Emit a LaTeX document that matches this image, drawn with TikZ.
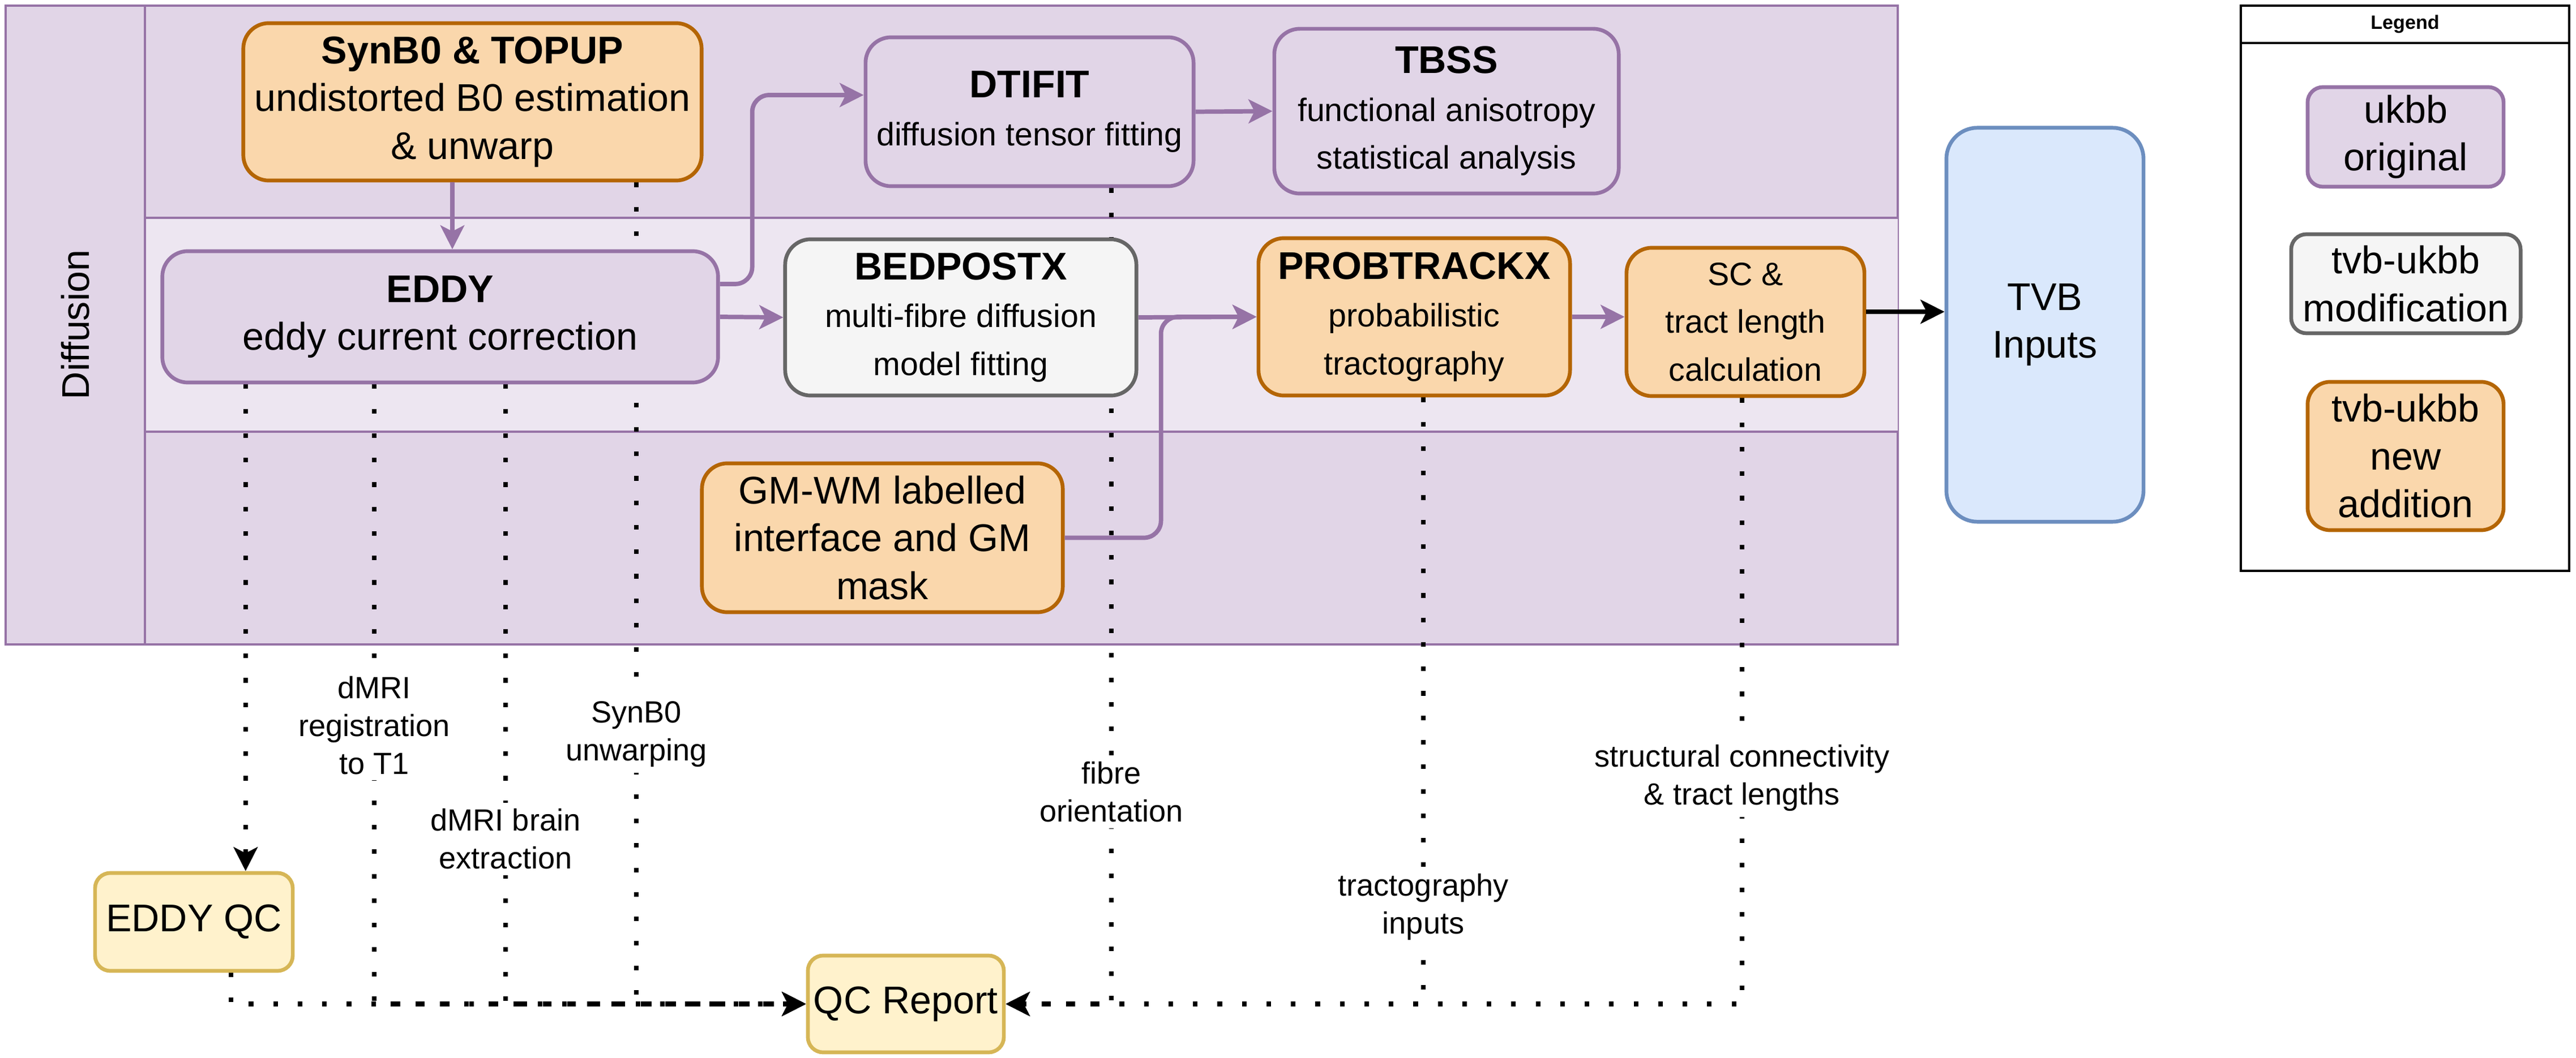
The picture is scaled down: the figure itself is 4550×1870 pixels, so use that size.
\documentclass[tikz,border=0pt]{standalone}
\usepackage{fontspec}
\setmainfont{Liberation Sans}
\usetikzlibrary{arrows.meta}

\definecolor{ukbbfill}{HTML}{E1D5E7}
\definecolor{ukbbdraw}{HTML}{9673A6}
\definecolor{newfill}{HTML}{FAD7AC}
\definecolor{newdraw}{HTML}{B46504}
\definecolor{modfill}{HTML}{F5F5F5}
\definecolor{moddraw}{HTML}{666666}
\definecolor{qcfill}{HTML}{FFF2CC}
\definecolor{qcdraw}{HTML}{D6B656}
\definecolor{tvbfill}{HTML}{DAE8FC}
\definecolor{tvbdraw}{HTML}{6C8EBF}

\pgfdeclarelayer{lanes}
\pgfdeclarelayer{qclines}
\pgfsetlayers{lanes,qclines,main}

\newcommand{\subtxt}{\fontsize{16.3pt}{24pt}\selectfont}

\tikzset{
  stepbox/.style={draw, rounded corners=0.45cm, line width=1.9pt, align=center,
    inner sep=0pt, font=\fontsize{19.4pt}{24pt}\selectfont},
  ukbb/.style={stepbox, fill=ukbbfill, draw=ukbbdraw},
  newstep/.style={stepbox, fill=newfill, draw=newdraw},
  modstep/.style={stepbox, fill=modfill, draw=moddraw},
  qcstep/.style={stepbox, fill=qcfill, draw=qcdraw, rounded corners=0.27cm},
  flow/.style={-{Stealth[length=12pt, width=12pt, inset=3pt]}, line width=2.2pt,
    draw=ukbbdraw, rounded corners=0.3cm},
  qcflow/.style={-{Stealth[length=12pt, width=12pt, inset=3pt]}, line width=2.3pt,
    dash pattern=on 2.3pt off 10pt},
  qclabel/.style={fill=white, align=center, inner sep=3pt,
    font=\fontsize{15.4pt}{19pt}\selectfont},
  lane/.style={draw=ukbbdraw, line width=1.4pt}
}

\begin{document}
\begin{tikzpicture}[x=0.01cm, y=-0.01cm]
\useasboundingbox (0,0) rectangle (4550,1870);
% swimlanes
\begin{pgfonlayer}{lanes}
\filldraw[lane, fill=ukbbfill] (10,10) rectangle (3352,1139);
\fill[ukbbfill!60!white] (256,385) rectangle (3352,763);
\draw[lane] (256,10) -- (256,1139);
\draw[lane] (256,385) -- (3352,385);
\draw[lane] (256,763) -- (3352,763);
\end{pgfonlayer}
\node[rotate=90, font=\fontsize{19.4pt}{24pt}\selectfont] (diffusion) at (133,574) {Diffusion};

% pipeline steps
\node[newstep, minimum width=8.09cm, minimum height=2.78cm] (synb0) at (834.5,180) {\textbf{SynB0 \& TOPUP}\\undistorted B0 estimation\\\& unwarp};
\node[ukbb, minimum width=9.81cm, minimum height=2.32cm] (eddy) at (777.5,560) {\textbf{EDDY}\\eddy current correction};
\node[ukbb, minimum width=5.79cm, minimum height=2.63cm] (dtifit) at (1818.5,197.5) {\textbf{DTIFIT}\\\subtxt diffusion tensor fitting};
\node[ukbb, minimum width=6.08cm, minimum height=2.91cm] (tbss) at (2555,196.5) {\textbf{TBSS}\\\subtxt functional anisotropy\\\subtxt statistical analysis};
\node[modstep, minimum width=6.2cm, minimum height=2.76cm] (bedpostx) at (1697,561) {\textbf{BEDPOSTX}\\\subtxt multi-fibre diffusion\\\subtxt model fitting};
\node[newstep, minimum width=5.5cm, minimum height=2.78cm] (probtrackx) at (2498,560) {\textbf{PROBTRACKX}\\\subtxt probabilistic\\\subtxt tractography};
\node[newstep, minimum width=4.2cm, minimum height=2.62cm] (sc) at (3083,569) {\subtxt SC \&\\\subtxt tract length\\\subtxt calculation};
\node[newstep, minimum width=6.37cm, minimum height=2.63cm] (gmwm) at (1558.5,950.5) {GM-WM labelled\\interface and GM\\mask};
\node[stepbox, fill=tvbfill, draw=tvbdraw, rounded corners=0.55cm, minimum width=3.48cm, minimum height=6.96cm] (tvb) at (3612,574) {TVB\\Inputs};
\node[qcstep, minimum width=3.49cm, minimum height=1.73cm] (eddyqc) at (342.5,1629.5) {EDDY QC};
\node[qcstep, minimum width=3.46cm, minimum height=1.71cm] (qcreport) at (1600,1774.5) {QC Report};

% processing flow
\coordinate (s1) at ([xshift=-0.355cm]synb0.south);
\draw[flow] (s1) -- (s1 |- eddy.north);
\draw[flow] ([yshift=0.58cm]eddy.east) -- ++(0.57cm,0) |- ([yshift=0.295cm]dtifit.west);
\draw[flow] (eddy.east) -- (bedpostx.west);
\draw[flow] (dtifit.east) -- (tbss.west);
\draw[flow] (bedpostx.east) -- (probtrackx.west);
\draw[flow] (gmwm.east) -- ++(1.7cm,0) |- (probtrackx.west);
\draw[flow] (probtrackx.east) -- (probtrackx.east -| sc.west);
\coordinate (s2) at ([yshift=0.18cm]sc.east);
\draw[flow, draw=black] (s2) -- (s2 -| tvb.west);

% quality control
\begin{pgfonlayer}{qclines}
\coordinate (q1) at ([xshift=-3.435cm]eddy.south);
\draw[qcflow] (q1) -- (q1 |- eddyqc.north);
\draw[qcflow] ([xshift=0.655cm]eddyqc.south) |- (qcreport.west);
\draw[qcflow] ([xshift=-1.165cm]eddy.south) |- (qcreport.west);
\draw[qcflow] ([xshift=1.155cm]eddy.south) |- (qcreport.west);
\draw[qcflow] ([xshift=2.895cm]synb0.south) |- (qcreport.west);
\draw[qcflow] ([xshift=1.445cm]dtifit.south) |- (qcreport.east);
\draw[qcflow] ([xshift=0.16cm]probtrackx.south) |- (qcreport.east);
\draw[qcflow] ([xshift=-0.06cm]sc.south) |- (qcreport.east);
\end{pgfonlayer}
\node[qclabel] (reglabel) at (661,1282) {dMRI\\registration\\to T1};
\node[qclabel] (brainlabel) at (893,1483) {dMRI brain\\extraction};
\node[qclabel] (unwarplabel) at (1124,1298) {SynB0\\unwarping};
\node[qclabel] (fibrelabel) at (1963,1400) {fibre\\orientation};
\node[qclabel] (tractlabel) at (2514,1603) {tractography\\inputs};
\node[qclabel] (sclabel) at (3077,1375) {structural connectivity\\\& tract lengths};

% legend
\draw[line width=1pt] (3958,10) rectangle (4538,1009);
\draw[line width=1pt] (3958,76) -- (4538,76);
\node[font=\fontsize{9.7pt}{12pt}\selectfont\bfseries] (legend) at (4248,43) {Legend};
\node[ukbb, rounded corners=0.27cm, minimum width=3.46cm, minimum height=1.76cm] (legukbb) at (4249,242) {ukbb\\original};
\node[modstep, rounded corners=0.27cm, minimum width=4.05cm, minimum height=1.75cm] (legmod) at (4249.5,501.5) {tvb-ukbb\\modification};
\node[newstep, rounded corners=0.4cm, minimum width=3.46cm, minimum height=2.62cm] (legnew) at (4249,806) {tvb-ukbb\\new\\addition};
\end{tikzpicture}
\end{document}
